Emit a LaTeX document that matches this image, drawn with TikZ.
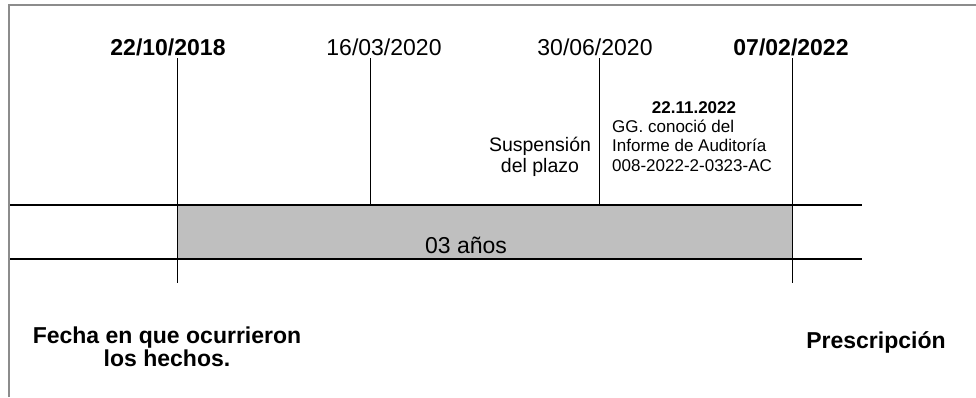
\documentclass[tikz,border=0pt]{standalone}
\usepackage{fontspec}
\setmainfont{Liberation Sans}
\begin{document}
\begin{tikzpicture}[x=1pt,y=-1pt,
  frame/.style={draw=black!45,line width=2pt},
  vline/.style={draw=black,line width=1pt},
  hline/.style={draw=black,line width=1.6pt},
  datelbl/.style={font=\fontsize{23}{26}\selectfont,inner sep=0pt},
  datebold/.style={datelbl,font=\fontsize{23}{26}\selectfont\bfseries},
  note/.style={font=\fontsize{17}{19.5}\selectfont,inner sep=0pt,align=left},
  bottomlbl/.style={font=\fontsize{23}{22.5}\selectfont\bfseries,inner sep=0pt,align=center}]
\useasboundingbox (0,0) rectangle (976,397);
% frame
\draw[frame] (9,397) -- (9,5) -- (976,5);
% band
\fill[fill=black!25] (177,205) rectangle (792,259);
\node[inner sep=0pt,font=\fontsize{23}{26}\selectfont] (band) at (466,245) {03 años};
% horizontal lines
\coordinate (hl1a) at (10,205); \coordinate (hl1b) at (862,205);
\coordinate (hl2a) at (10,259); \coordinate (hl2b) at (862,259);
\draw[hline] (hl1a) -- (hl1b);
\draw[hline] (hl2a) -- (hl2b);
% vertical lines
\coordinate (v1t) at (177,58); \coordinate (v1b) at (177,283);
\coordinate (v2t) at (370,58); \coordinate (v2b) at (370,205);
\coordinate (v3t) at (599,58); \coordinate (v3b) at (599,205);
\coordinate (v4t) at (792,58); \coordinate (v4b) at (792,283);
\draw[vline] (v1t) -- (v1b);
\draw[vline] (v2t) -- (v2b);
\draw[vline] (v3t) -- (v3b);
\draw[vline] (v4t) -- (v4b);
% dates
\node[datebold] (d1) at (168,47) {22/10/2018};
\node[datelbl] (d2) at (384,47) {16/03/2020};
\node[datelbl] (d3) at (595,47) {30/06/2020};
\node[datebold] (d4) at (791,47) {07/02/2022};
% suspension
\node[font=\fontsize{19.5}{21}\selectfont,inner sep=0pt,align=center] (susp) at (540,157) {Suspensión\\del plazo};
% note
\node[font=\fontsize{17}{19}\selectfont\bfseries,inner sep=0pt] (nd) at (694,108) {22.11.2022};
\node[note,anchor=north west] (nt) at (612,119.5) {GG. conoció del\\Informe de Auditoría\\008-2022-2-0323-AC};
% bottom labels
\node[bottomlbl] (fecha) at (167,347) {Fecha en que ocurrieron\\los hechos.};
\node[bottomlbl] (presc) at (876,342) {Prescripción};
\end{tikzpicture}
\end{document}
